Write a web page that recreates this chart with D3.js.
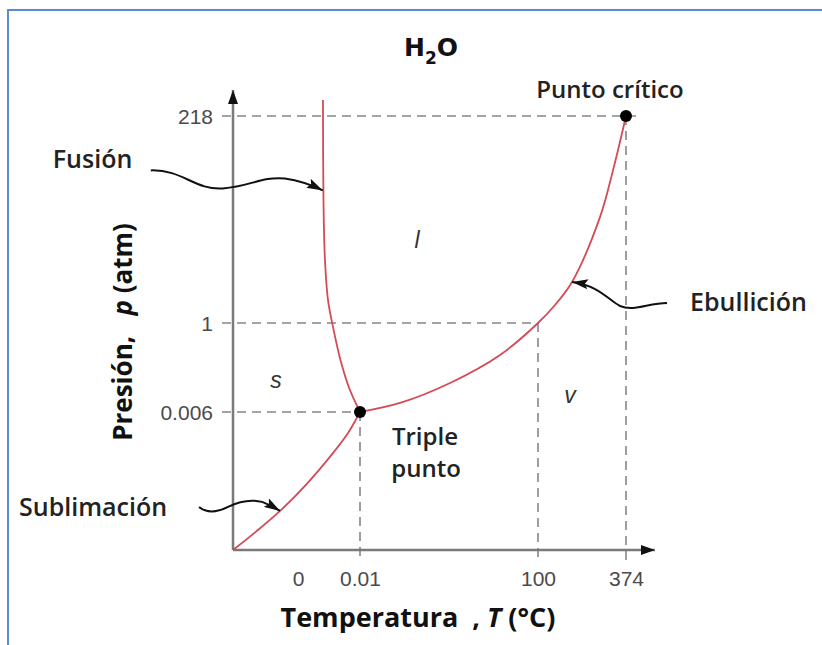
<!DOCTYPE html>
<html><head><meta charset="utf-8">
<script src="https://cdn.jsdelivr.net/npm/d3@7"></script>
<style>body{margin:0;background:#fff}</style>
</head><body>
<svg id="chart" width="822" height="645"></svg>
<script>
// ---------------- data ----------------
const tempTicks = [0, 0.01, 100, 374];
const tempTickLabels = ["0", "0.01", "100", "374"];
const presTicks = [0.006, 1, 218];
const presTickLabels = ["0.006", "1", "218"];
// schematic (piecewise) axis breakpoints
const tempBreaks = [-5, 0, 0.01, 100, 374, 464];
const presBreaks = [0, 0.006, 1, 218, 250];

// phase boundaries (T in °C, p in atm)
const fusionT = [0.00403, 0.00411, 0.00435, 0.00484, 0.00575, 0.00685, 0.00825, 0.01];
const fusionP = [237.7, 129.9, 67.0, 25.1, 0.922, 0.587, 0.274, 0.006];
const sublimT = [-5, -3.23, -1.38, 0.0015, 0.0056, 0.0081, 0.01];
const sublimP = [0, 0.0008, 0.0017, 0.0029, 0.0042, 0.0051, 0.006];
const vaporT = [0.01, 22.5, 50.6, 78.7, 100, 152.9, 206, 293, 333.5, 374];
const vaporP = [0.006, 0.107, 0.330, 0.643, 1, 19.9, 44, 112, 161, 218];

// special points
const tripleP = {T: 0.01, p: 0.006};
const criticalP = {T: 374, p: 218};
const boilingP = {T: 100, p: 1};

// phase labels
const phaseNames = ["s", "l", "v"];
const phaseT = [-1.7, 32, 200];
const phaseP = [0.27, 80, 0.11];

// curve annotations
const annoNames = ["Fusión", "Sublimación", "Ebullición"];
const annoT = [0.0040, -1.38, 206];
const annoP = [140, 0.0017, 44];

// ---------------- drawing ----------------
const svg = d3.select("#chart");
const x = d3.scaleLinear().domain(tempBreaks).range([233, 298, 360, 538, 626, 655]);
const y = d3.scaleLinear().domain(presBreaks).range([550, 412, 323, 116, 90]);

const RED = "#d44a55", GREY = "#7a7a7a", DASH = "#858585";
const LBL = "'Open Sans', 'DejaVu Sans', sans-serif";
const NB = "\u00a0";

// border
svg.append("path").attr("d", "M822,10 H8 V645").attr("fill", "none")
  .attr("stroke", "#5a8ad2").attr("stroke-width", 2);

const defs = svg.append("defs");
defs.append("marker").attr("id", "axArrow").attr("viewBox", "0 0 14 10")
  .attr("refX", 14).attr("refY", 5).attr("markerWidth", 14).attr("markerHeight", 10)
  .attr("markerUnits", "userSpaceOnUse").attr("orient", "auto")
  .append("path").attr("d", "M0,0 L14,5 L0,10 z").attr("fill", "#111");
defs.append("marker").attr("id", "anArrow").attr("viewBox", "0 0 16 10")
  .attr("refX", 16).attr("refY", 5).attr("markerWidth", 16).attr("markerHeight", 10)
  .attr("markerUnits", "userSpaceOnUse").attr("orient", "auto")
  .append("path").attr("d", "M0,0 L16,5 L0,10 L3,5 z").attr("fill", "#111");

// dashed guides
const guides = svg.append("g").attr("stroke", DASH).attr("stroke-width", 1.6)
  .attr("stroke-dasharray", "9,6").attr("fill", "none");
[tripleP, boilingP, criticalP].forEach(d => {
  guides.append("line").attr("x1", x(tempBreaks[0]) - 11).attr("x2", x(d.T) + (d === criticalP ? 14 : 0))
    .attr("y1", y(d.p)).attr("y2", y(d.p));
  guides.append("line").attr("x1", x(d.T)).attr("x2", x(d.T))
    .attr("y1", y(d.p)).attr("y2", y(presBreaks[0]) + 11);
});

// axes lines with arrows
svg.append("line").attr("x1", x(tempBreaks[0])).attr("x2", x(tempBreaks[tempBreaks.length - 1]))
  .attr("y1", y(0)).attr("y2", y(0)).attr("stroke", GREY).attr("stroke-width", 2.5)
  .attr("marker-end", "url(#axArrow)");
svg.append("line").attr("x1", x(tempBreaks[0])).attr("x2", x(tempBreaks[0]))
  .attr("y1", y(0)).attr("y2", y(presBreaks[presBreaks.length - 1])).attr("stroke", GREY).attr("stroke-width", 2.5)
  .attr("marker-end", "url(#axArrow)");

// tick labels via d3 axes
const xAxis = d3.axisBottom(x).tickValues(tempTicks)
  .tickFormat((d, i) => tempTickLabels[i]).tickSize(0).tickPadding(21);
const gx = svg.append("g").attr("transform", `translate(0,${y(0)})`).call(xAxis);
const yAxis = d3.axisLeft(y).tickValues(presTicks)
  .tickFormat((d, i) => presTickLabels[i]).tickSize(0).tickPadding(20);
const gy = svg.append("g").attr("transform", `translate(${x(tempBreaks[0])},0)`).call(yAxis);
[gx, gy].forEach(g => {
  g.select(".domain").remove();
  g.selectAll("text").attr("font-family", "'Liberation Sans', Arial, sans-serif")
    .attr("font-size", 21).attr("fill", "#4a4a4a");
});
gy.selectAll("text").attr("dy", "0.35em");

// phase boundary curves
const line = d3.line().x(d => x(d[0])).y(d => y(d[1])).curve(d3.curveCatmullRom.alpha(0.5));
const curves = [[fusionT, fusionP], [sublimT, sublimP], [vaporT, vaporP]];
svg.append("g").selectAll("path").data(curves).join("path")
  .attr("d", c => line(c[0].map((t, i) => [t, c[1][i]])))
  .attr("fill", "none").attr("stroke", RED).attr("stroke-width", 1.8);

// points
svg.append("g").selectAll("circle").data([tripleP, criticalP]).join("circle")
  .attr("cx", d => x(d.T)).attr("cy", d => y(d.p)).attr("r", 6).attr("fill", "#000");

// phase labels
svg.append("g").selectAll("text").data(phaseNames).join("text")
  .attr("x", (d, i) => x(phaseT[i])).attr("y", (d, i) => y(phaseP[i]))
  .attr("text-anchor", "middle").attr("font-family", "'Liberation Sans', Arial, sans-serif")
  .attr("font-style", "italic").attr("font-size", 23).attr("fill", "#333").text(d => d);

// annotations: arrows with tails offset from tip anchored on curves
const tails = [
  "M-172,-20 C-140,-21 -128,0 -100,-2 C-72,-4 -62,-14 -38,-12 C-24,-10 -12,-6 0,0",
  "M-81,-4 C-74,2 -64,2 -52,-4 C-42,-9 -30,-12 -18,-9 C-10,-6 -5,-3 0,0",
  "M95,21 C76,21 62,30 48,24 C36,18 28,4 0,0"
];
const textPos = [[-270, -22, "start"], [-261, 5, "start"], [118, 29, "start"]];
annoNames.forEach((name, i) => {
  const g = svg.append("g").attr("transform", `translate(${x(annoT[i])},${y(annoP[i])})`);
  g.append("path").attr("d", tails[i]).attr("fill", "none").attr("stroke", "#111")
    .attr("stroke-width", 2).attr("marker-end", "url(#anArrow)");
  g.append("text").attr("x", textPos[i][0]).attr("y", textPos[i][1])
    .attr("text-anchor", textPos[i][2]).attr("font-family", LBL).attr("font-weight", 600)
    .attr("font-size", 25).attr("fill", "#222").text(name);
});

// point labels
svg.append("text").attr("x", x(criticalP.T) - 16).attr("y", y(criticalP.p) - 18)
  .attr("text-anchor", "middle").attr("font-family", LBL).attr("font-weight", 600)
  .attr("font-size", 24).attr("fill", "#222").text("Punto crítico");
const tp = svg.append("text").attr("text-anchor", "middle").attr("font-family", LBL)
  .attr("font-weight", 600).attr("font-size", 24).attr("fill", "#222");
tp.append("tspan").attr("x", x(tripleP.T) + 65).attr("y", y(tripleP.p) + 33).text("Triple");
tp.append("tspan").attr("x", x(tripleP.T) + 66).attr("y", y(tripleP.p) + 65).text("punto");

// title
const title = svg.append("text").attr("x", 431).attr("y", 56).attr("text-anchor", "middle")
  .attr("font-family", "'DejaVu Sans', sans-serif").attr("font-weight", "bold")
  .attr("font-size", 25).attr("fill", "#111");
title.append("tspan").text("H");
title.append("tspan").attr("font-size", 17).attr("dy", 8).text("2");
title.append("tspan").attr("dy", -8).text("O");

// axis titles
const xt = svg.append("text").attr("x", 418).attr("y", 627).attr("text-anchor", "middle")
  .attr("font-family", LBL).attr("font-weight", 700).attr("font-size", 27).attr("fill", "#111");
xt.append("tspan").text("Temperatura" + NB + NB + "," + NB);
xt.append("tspan").attr("font-style", "italic").text("T");
xt.append("tspan").text(NB + "(°C)");

const yt = svg.append("text").attr("transform", "translate(132,332) rotate(-90)")
  .attr("text-anchor", "middle").attr("font-family", LBL).attr("font-weight", 700)
  .attr("font-size", 26).attr("fill", "#111");
yt.append("tspan").text("Presión," + NB + NB + NB);
yt.append("tspan").attr("font-style", "italic").text("p");
yt.append("tspan").text(NB + "(atm)");
</script>
</body></html>
